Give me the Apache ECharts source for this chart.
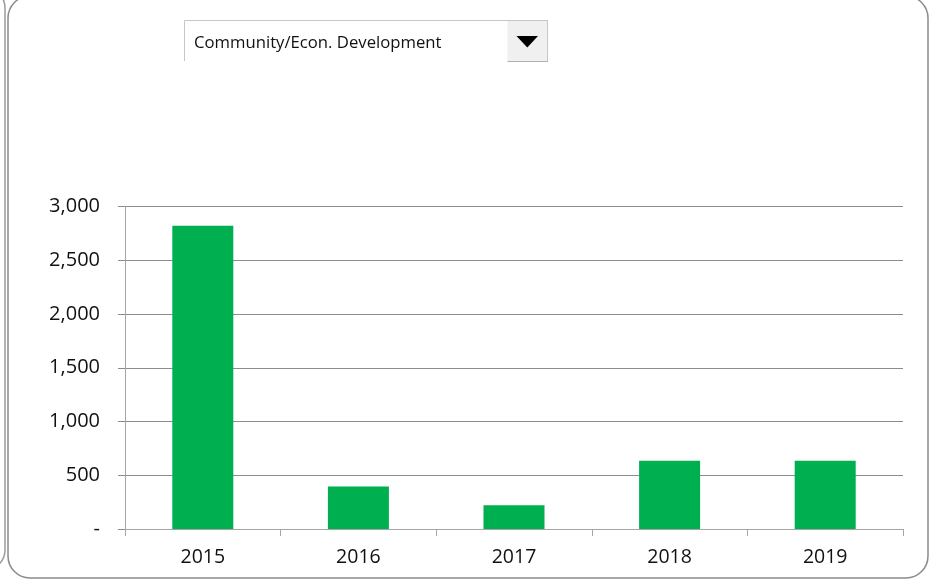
<!DOCTYPE html>
<html>
<head>
<meta charset="utf-8">
<script src="https://cdn.jsdelivr.net/npm/echarts@6/dist/echarts.min.js"></script>
<style>
html,body{margin:0;padding:0;background:#fff;}
#chart{width:941px;height:582px;}
</style>
</head>
<body>
<div id="chart"></div>
<script>
const categories = ['2015', '2016', '2017', '2018', '2019'];
const values = [2820, 395, 220, 635, 635];
const yTicks = [0, 500, 1000, 1500, 2000, 2500, 3000];
const dropdownLabel = 'Community/Econ. Development';

const chart = echarts.init(document.getElementById('chart'), null, {renderer: 'canvas'});
const FONT = '"Open Sans", "Noto Sans", sans-serif';

chart.setOption({
  backgroundColor: '#ffffff',
  animation: false,
  grid: {left: 125, right: 38, top: 206.5, bottom: 53, containLabel: false},
  xAxis: {
    type: 'category',
    data: categories,
    boundaryGap: true,
    axisLine: {show: true, lineStyle: {color: '#a6a6a6', width: 1}},
    axisTick: {show: true, length: 7, alignWithLabel: false, lineStyle: {color: '#a6a6a6'}},
    axisLabel: {color: '#111', fontFamily: FONT, fontSize: 19.5, margin: 18}
  },
  yAxis: {
    type: 'value',
    min: yTicks[0],
    max: yTicks[yTicks.length - 1],
    interval: yTicks[1] - yTicks[0],
    axisLine: {show: true, lineStyle: {color: '#a6a6a6', width: 1}},
    axisTick: {show: true, length: 7, lineStyle: {color: '#8c8c8c'}},
    splitLine: {show: true, lineStyle: {color: '#8c8c8c', width: 1}},
    axisLabel: {
      color: '#111', fontFamily: FONT, fontSize: 20, margin: 25,
      formatter: function (v) { return v === 0 ? '-' : v.toLocaleString('en-US'); }
    }
  },
  series: [{
    type: 'bar',
    data: values,
    barWidth: 61,
    itemStyle: {color: '#00b050'}
  }],
  graphic: [
    {type: 'rect', shape: {x: -200, y: -12, width: 205, height: 582, r: 20}, style: {fill: 'none', stroke: '#9a9a9a', lineWidth: 1.5}, z: 100},
    {type: 'rect', shape: {x: 8, y: -4, width: 920, height: 582, r: 22}, style: {fill: 'none', stroke: '#8a8a8a', lineWidth: 1.5}, z: 100},
    // dropdown
    {type: 'rect', shape: {x: 507.5, y: 20.5, width: 40, height: 41}, style: {fill: '#f0f0f0', stroke: 'none'}, z: 100},
    {type: 'line', shape: {x1: 184.5, y1: 20.5, x2: 548, y2: 20.5}, style: {stroke: '#c6c6c6', lineWidth: 1}, z: 101},
    {type: 'line', shape: {x1: 184.5, y1: 20.5, x2: 184.5, y2: 61}, style: {stroke: '#c6c6c6', lineWidth: 1}, z: 101},
    {type: 'line', shape: {x1: 547.5, y1: 20.5, x2: 547.5, y2: 62}, style: {stroke: '#c6c6c6', lineWidth: 1}, z: 101},
    {type: 'line', shape: {x1: 507.5, y1: 61.5, x2: 548, y2: 61.5}, style: {stroke: '#b0b0b0', lineWidth: 1}, z: 101},
    {type: 'polygon', shape: {points: [[516.5, 36], [538, 36], [527.3, 47.5]]}, style: {fill: '#000'}, z: 101},
    {type: 'text', x: 194, y: 43, style: {text: dropdownLabel, font: '16.7px ' + FONT, fill: '#111', textVerticalAlign: 'middle', verticalAlign: 'middle'}, z: 101}
  ]
});
</script>
</body>
</html>
